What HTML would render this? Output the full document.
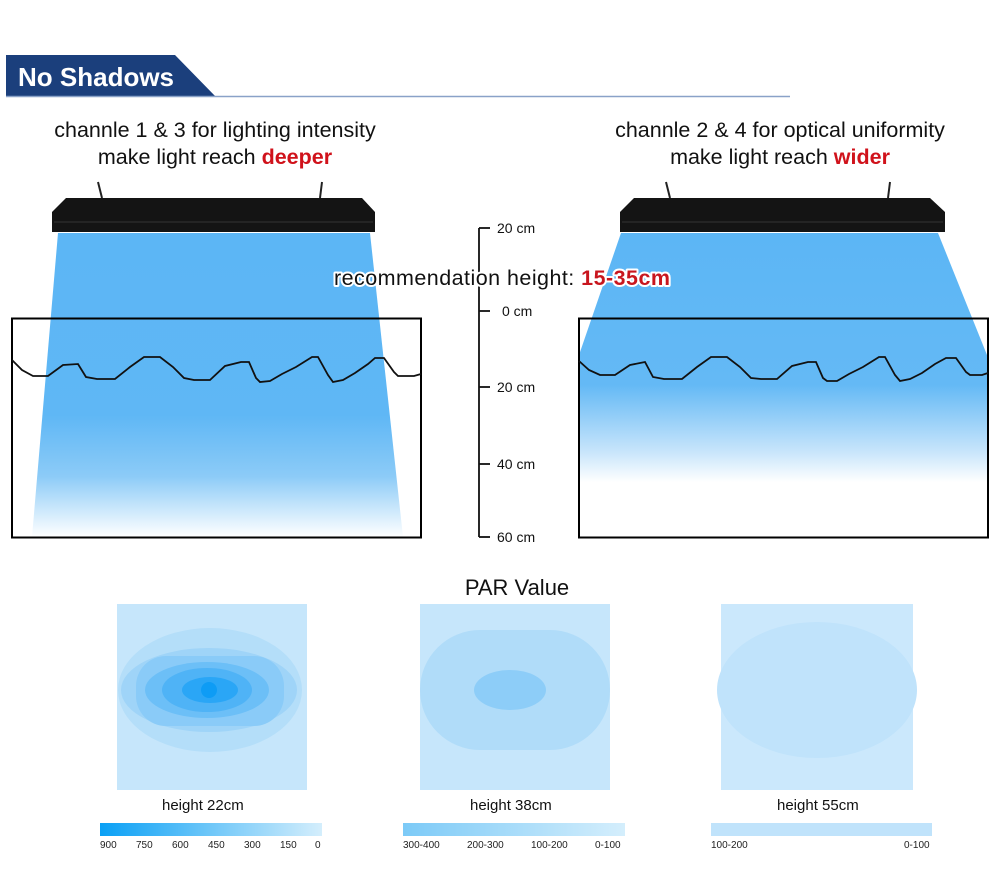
<!DOCTYPE html>
<html><head><meta charset="utf-8"><style>
html,body{margin:0;padding:0;background:#fff;}
svg{display:block;font-family:"Liberation Sans",sans-serif;}
</style></head><body>
<svg width="1000" height="874" viewBox="0 0 1000 874" xmlns="http://www.w3.org/2000/svg">
<defs>
<linearGradient id="gl" x1="0" y1="233" x2="0" y2="537" gradientUnits="userSpaceOnUse">
<stop offset="0" stop-color="#5cb6f5"/><stop offset="0.6" stop-color="#5fb7f5"/><stop offset="0.8" stop-color="#8ccbf7"/><stop offset="1" stop-color="#ffffff"/></linearGradient>
<linearGradient id="gr" x1="0" y1="233" x2="0" y2="537" gradientUnits="userSpaceOnUse">
<stop offset="0" stop-color="#5cb6f5"/><stop offset="0.5" stop-color="#64b9f5"/><stop offset="0.72" stop-color="#c8e5fb"/><stop offset="0.82" stop-color="#ffffff"/></linearGradient>
<linearGradient id="c1" x1="0" x2="1"><stop offset="0" stop-color="#0aa0f5"/><stop offset="1" stop-color="#d4eefc"/></linearGradient>
<linearGradient id="c2" x1="0" x2="1"><stop offset="0" stop-color="#7ccaf7"/><stop offset="1" stop-color="#d4eefc"/></linearGradient>
</defs>
<polygon points="6,55 175,55 216,97 6,97" fill="#1b3f7c"/>
<line x1="6" y1="96.5" x2="790" y2="96.5" stroke="#8aa2c8" stroke-width="1.5"/>
<text x="18" y="86" font-size="26" font-weight="bold" fill="#fff">No Shadows</text>
<text x="215" y="137" font-size="21.5" text-anchor="middle" fill="#111">channle 1 &amp; 3 for lighting intensity</text>
<text x="215" y="164" font-size="21.5" text-anchor="middle" fill="#111">make light reach <tspan fill="#d0121b" font-weight="bold">deeper</tspan></text>
<text x="780" y="137" font-size="21.5" text-anchor="middle" fill="#111">channle 2 &amp; 4 for optical uniformity</text>
<text x="780" y="164" font-size="21.5" text-anchor="middle" fill="#111">make light reach <tspan fill="#d0121b" font-weight="bold">wider</tspan></text>
<polygon points="58,233 370,233 403,537 32,537" fill="url(#gl)"/>
<g>
<polygon points="66,198 362,198 375,212 375,232 52,232 52,212" fill="#141414"/>
<line x1="98" y1="182" x2="102" y2="198" stroke="#222" stroke-width="2"/>
<line x1="322" y1="182" x2="320" y2="198" stroke="#222" stroke-width="2"/>
<line x1="54" y1="222" x2="373" y2="222" stroke="#333"/>
</g>
<polygon points="621,233 938,233 987,355 987,537 579,537 579,355" fill="url(#gr)"/>
<g>
<polygon points="634,198 930,198 945,212 945,232 620,232 620,212" fill="#141414"/>
<line x1="666" y1="182" x2="670" y2="198" stroke="#222" stroke-width="2"/>
<line x1="890" y1="182" x2="888" y2="198" stroke="#222" stroke-width="2"/>
<line x1="622" y1="222" x2="943" y2="222" stroke="#333"/>
</g>
<rect x="12" y="318.5" width="409" height="219" fill="none" stroke="#000" stroke-width="2"/>
<rect x="579" y="318.5" width="409" height="219" fill="none" stroke="#000" stroke-width="2"/>
<polyline fill="none" stroke="#111" stroke-width="1.8" points="12,360 22,370 33,376 48,376 63,365 78,364 86,377 97,379 115,379 130,367 144,357 160,357 173,367 184,378 194,380 210,380 225,366 241,362 249,362 256,378 260,382 270,381 282,374 296,367 312,357 318,357 328,375 333,382 343,380 355,373 368,364 375,358 384,358 394,372 398,376 414,376 421,374"/>
<polyline fill="none" stroke="#111" stroke-width="1.8" points="579,361 589,370 600,375 615,375 630,365 645,362 653,377 664,379 682,379 697,367 711,357 727,357 740,367 751,378 761,379 777,379 792,366 808,362 816,362 823,378 827,381 837,381 849,374 863,367 879,357 885,357 895,375 900,381 910,379 922,373 935,364 946,358 956,358 966,372 970,375 982,375 988,373"/>
<line x1="479" y1="228" x2="479" y2="537" stroke="#111" stroke-width="1.8"/>
<g stroke="#111" stroke-width="1.8">
<line x1="479" y1="228" x2="490" y2="228"/><line x1="479" y1="311" x2="490" y2="311"/><line x1="479" y1="387" x2="490" y2="387"/><line x1="479" y1="464" x2="490" y2="464"/><line x1="479" y1="537" x2="490" y2="537"/>
</g>
<g font-size="14" fill="#111">
<text x="497" y="233">20 cm</text><text x="502" y="316">0 cm</text><text x="497" y="392">20 cm</text><text x="497" y="469">40 cm</text><text x="497" y="542">60 cm</text>
</g>
<text x="334" y="285" font-size="21.5" fill="#111" stroke="#fff" stroke-width="4" paint-order="stroke" stroke-linejoin="round" textLength="336">recommendation height: <tspan fill="#c8161e" font-weight="bold">15-35cm</tspan></text>
<text x="517" y="595" font-size="22" text-anchor="middle" fill="#111">PAR Value</text>
<rect x="117" y="604" width="190" height="186" fill="#c6e6fb"/>
<ellipse cx="210" cy="690" rx="92" ry="62" fill="#b4def9"/>
<ellipse cx="209" cy="690" rx="88" ry="42" fill="#9fd4f8"/>
<rect x="136" y="656" width="148" height="70" rx="30" fill="#8acbf8"/>
<ellipse cx="207" cy="690" rx="62" ry="28" fill="#6cbff7"/>
<ellipse cx="207" cy="690" rx="45" ry="22" fill="#4fb3f6"/>
<ellipse cx="210" cy="690" rx="28" ry="13" fill="#2aa6f6"/>
<circle cx="209" cy="690" r="8" fill="#0e9cf5"/>
<rect x="420" y="604" width="190" height="186" fill="#c6e6fb"/>
<rect x="420" y="630" width="190" height="120" rx="60" fill="#b0dcf9"/>
<ellipse cx="510" cy="690" rx="36" ry="20" fill="#8dcdf8"/>
<rect x="721" y="604" width="192" height="186" fill="#cbe8fc"/>
<ellipse cx="817" cy="690" rx="100" ry="68" fill="#c0e3fb"/>
<g font-size="15" fill="#111">
<text x="162" y="810">height  22cm</text>
<text x="470" y="810">height  38cm</text>
<text x="777" y="810">height  55cm</text>
</g>
<rect x="100" y="823" width="222" height="13" fill="url(#c1)"/>
<rect x="403" y="823" width="222" height="13" fill="url(#c2)"/>
<rect x="711" y="823" width="221" height="13" fill="#c0e3fb"/>
<g font-size="10" fill="#222">
<text x="100" y="848">900</text><text x="136" y="848">750</text><text x="172" y="848">600</text><text x="208" y="848">450</text><text x="244" y="848">300</text><text x="280" y="848">150</text><text x="315" y="848">0</text>
<text x="403" y="848">300-400</text><text x="467" y="848">200-300</text><text x="531" y="848">100-200</text><text x="595" y="848">0-100</text>
<text x="711" y="848">100-200</text><text x="904" y="848">0-100</text>
</g>
</svg>
</body></html>
